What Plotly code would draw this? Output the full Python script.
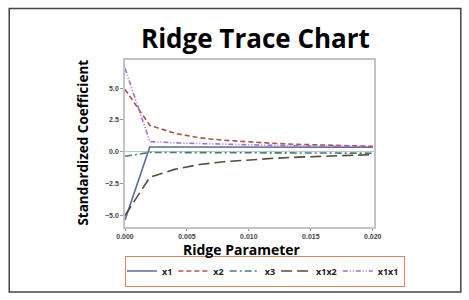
import plotly.graph_objects as go

ridge = [0.000, 0.002, 0.004, 0.006, 0.008, 0.010, 0.012, 0.014, 0.016, 0.018, 0.020]
x1 = [-5.35, 0.38, 0.38, 0.37, 0.37, 0.36, 0.36, 0.36, 0.35, 0.35, 0.35]
x2 = [4.90, 2.08, 1.45, 1.10, 0.90, 0.76, 0.66, 0.58, 0.52, 0.47, 0.43]
x3 = [-0.35, -0.05, -0.06, -0.07, -0.08, -0.09, -0.09, -0.10, -0.10, -0.11, -0.11]
x1x2 = [-5.00, -2.00, -1.38, -1.00, -0.78, -0.62, -0.51, -0.42, -0.35, -0.29, -0.22]
x1x1 = [6.55, 0.80, 0.70, 0.64, 0.59, 0.54, 0.50, 0.47, 0.44, 0.42, 0.40]

names = ["x1", "x2", "x3", "x1x2", "x1x1"]
series = [x1, x2, x3, x1x2, x1x1]
colors = ["#5b6a9c", "#a8564c", "#3f7f7c", "#5a4a3c", "#a070cc"]
dashes = ["solid", "5px,3px", "7px,3px,2px,3px", "11px,5px", "5px,2px,1px,2px,1px,2px"]

fig = go.Figure()
for n, s, c, d in zip(names, series, colors, dashes):
    fig.add_trace(go.Scatter(x=ridge, y=s, name=n, mode="lines",
                             line=dict(color=c, width=1.6, dash=d)))

L, R, T, B = 124.5, 95, 60, 73
W, H = 469, 300
pw, ph = W - L - R, H - T - B

def px(x):
    return (x - L) / pw

def py(y):
    return (H - B - y) / ph

tickfont = dict(family="Liberation Sans", size=7, color="#444", weight="bold")

fig.update_layout(
    width=W, height=H,
    margin=dict(l=L, r=R, t=T, b=B, autoexpand=False),
    paper_bgcolor="white", plot_bgcolor="white",
    showlegend=True,
    legend=dict(orientation="h", x=-0.0001, y=py(271), xanchor="left", yanchor="middle",
                bordercolor="#d9865e", borderwidth=1, bgcolor="white",
                font=dict(family="Open Sans", size=9, color="#222", weight="bold"),
                itemwidth=30, tracegroupgap=0, indentation=-4),
    xaxis=dict(range=[0, 0.0201], tickvals=[0, 0.005, 0.01, 0.015, 0.02],
               tickformat=".3f", showgrid=False, zeroline=False,
               showline=True, linecolor="#c4c4c4", linewidth=1.5, mirror=True,
               ticks="outside", ticklen=2, tickcolor="#999", tickfont=tickfont),
    yaxis=dict(range=[-5.9, 7.2], tickvals=[-5, -2.5, 0, 2.5, 5],
               tickformat=".1f", showgrid=False,
               zeroline=True, zerolinecolor="#c4c4c4", zerolinewidth=1,
               showline=True, linecolor="#c4c4c4", linewidth=1.5, mirror=True,
               ticks="outside", ticklen=3, tickcolor="#999", tickfont=tickfont),
    shapes=[dict(type="rect", xref="paper", yref="paper",
                 x0=px(8.5), x1=px(461), y0=py(292), y1=py(8.5),
                 line=dict(color="#444", width=1.5), fillcolor="rgba(0,0,0,0)",
                 layer="below")],
    annotations=[
        dict(text="<b>Ridge Trace Chart</b>", xref="paper", yref="paper",
             x=px(255), y=py(38), xanchor="center", yanchor="middle", showarrow=False,
             font=dict(family="Open Sans", size=26, color="black")),
        dict(text="<b>Standardized Coefficient</b>", xref="paper", yref="paper",
             x=px(82), y=py(143), xanchor="center", yanchor="middle", showarrow=False,
             textangle=-90, font=dict(family="Open Sans", size=13.5, color="black")),
        dict(text="<b>Ridge Parameter</b>", xref="paper", yref="paper",
             x=px(242), y=py(249.5), xanchor="center", yanchor="middle", showarrow=False,
             font=dict(family="Open Sans", size=14, color="black")),
    ],
)

fig.write_html("out.html")
